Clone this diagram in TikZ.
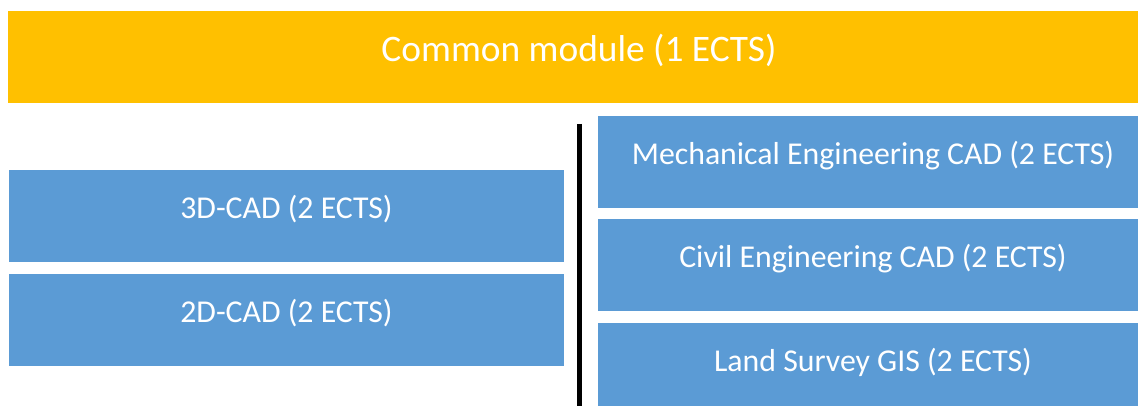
\documentclass[tikz,border=0pt]{standalone}
\usepackage{fontspec}
\setmainfont{Carlito}
\definecolor{modyellow}{HTML}{FFC000}
\definecolor{modblue}{HTML}{5B9BD5}
\begin{document}
\begin{tikzpicture}[x=1pt,y=-1pt,
    module/.style={fill=modblue,text=white,inner sep=0pt,
      minimum width=550pt,minimum height=92pt,
      text height=19pt,text depth=13.6pt,
      font=\fontsize{31.8}{36}\selectfont},
    common/.style={module,fill=modyellow,minimum width=1142pt,
      text height=22pt,text depth=13pt,
      font=\fontsize{37.4}{42}\selectfont}]
      \useasboundingbox (0,0) rectangle (1138,406);
      \clip (0,0) rectangle (1138,406);
      \node[common] (common) at (579,57) {Common module (1 ECTS)};
      % basic modules
      \node[module,minimum width=555pt] (cad3d) at (286.5,216) {3D-CAD (2 ECTS)};
      \node[module,minimum width=555pt] (cad2d) at (286.5,320) {2D-CAD (2 ECTS)};
      % specialisation modules
      \node[module] (mech) at (873,162) {Mechanical Engineering CAD (2 ECTS)};
      \node[module] (civil) at (873,265) {Civil Engineering CAD (2 ECTS)};
      \node[module] (survey) at (873,369) {Land Survey GIS (2 ECTS)};
      \draw[line width=5pt] (579,124) -- (579,410);
    \end{tikzpicture}
\end{document}
